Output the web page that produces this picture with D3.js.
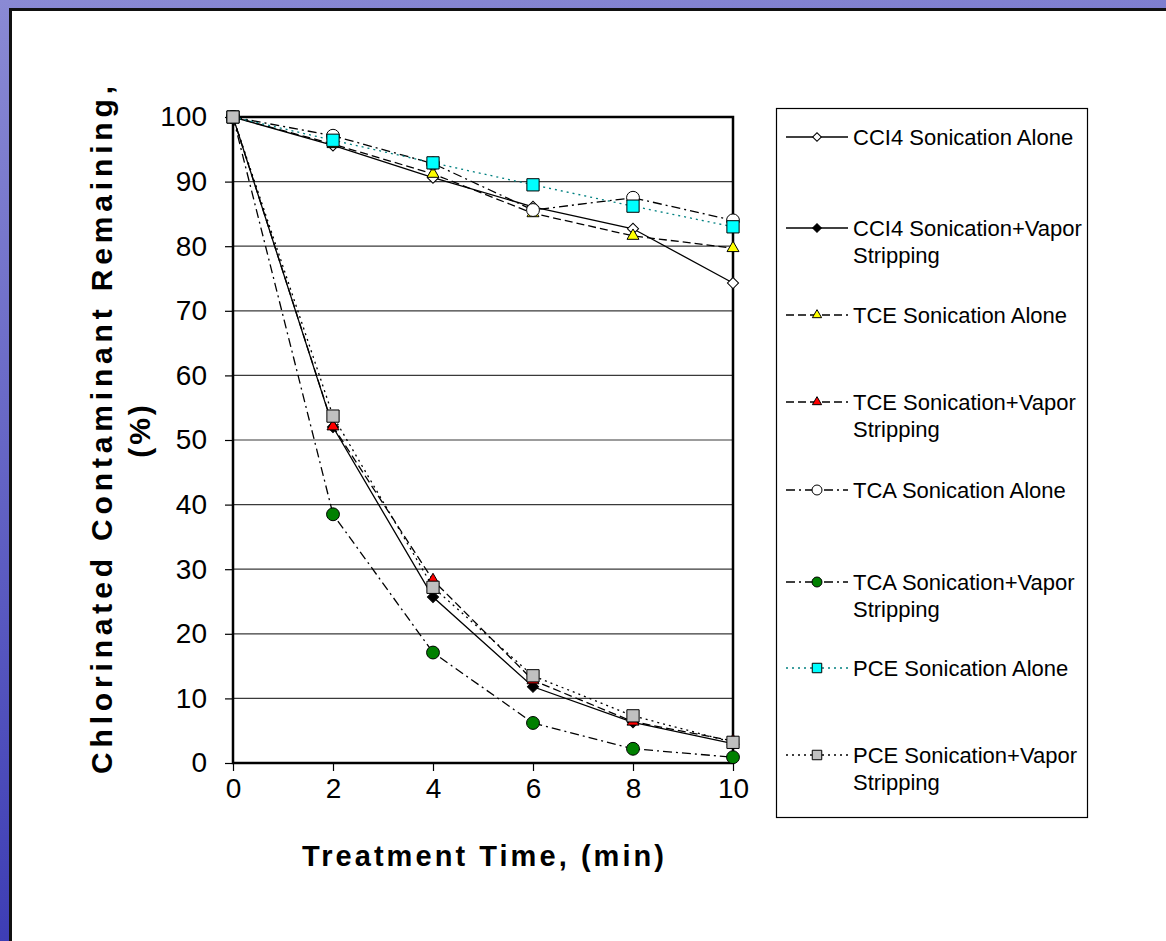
<!DOCTYPE html>
<html>
<head>
<meta charset="utf-8">
<script src="https://cdn.jsdelivr.net/npm/d3@7"></script>
<style>
  body { margin: 0; background: #ffffff; }
  svg { display: block; font-family: "Liberation Sans", Arial, sans-serif; }
</style>
</head>
<body>
<svg id="chart"></svg>
<script>
// treatment time (min) and % remaining
const times = [0, 2, 4, 6, 8, 10];
const ccl4Alone = [100, 95.6, 90.6, 86.1, 82.7, 74.3];
const ccl4Vapor = [100, 52.0, 25.7, 11.8, 6.3, 3.0];
const tceAlone = [100, 95.8, 91.2, 85.1, 81.6, 79.7];
const tceVapor = [100, 52.1, 28.3, 12.8, 6.4, 3.4];
const tcaAlone = [100, 97.1, 92.8, 85.6, 87.5, 84.0];
const tcaVapor = [100, 38.5, 17.1, 6.2, 2.2, 0.9];
const pceAlone = [100, 96.4, 92.9, 89.5, 86.2, 83.0];
const pceVapor = [100, 53.7, 27.2, 13.5, 7.3, 3.2];

const seriesNames = [
    ['CCI4 Sonication Alone'],
    ['CCI4 Sonication+Vapor', 'Stripping'],
    ['TCE Sonication Alone'],
    ['TCE Sonication+Vapor', 'Stripping'],
    ['TCA Sonication Alone'],
    ['TCA Sonication+Vapor', 'Stripping'],
    ['PCE Sonication Alone'],
    ['PCE Sonication+Vapor', 'Stripping']
];
const seriesValues = [ccl4Alone, ccl4Vapor, tceAlone, tceVapor, tcaAlone, tcaVapor, pceAlone, pceVapor];

const xTicks = [0, 2, 4, 6, 8, 10];
const yTicks = [0, 10, 20, 30, 40, 50, 60, 70, 80, 90, 100];
const xTitle = 'Treatment Time, (min)';
const yTitle = ['Chlorinated Contaminant Remaining,', '(%)'];

// line + marker styles, same order as the series
const styles = [
    {line: '#000', dash: null, shape: 'diamond', fill: '#fff'},
    {line: '#000', dash: null, shape: 'diamond', fill: '#000'},
    {line: '#000', dash: '8,4', shape: 'triangle', fill: '#ffff00'},
    {line: '#000', dash: '8,4', shape: 'triangle', fill: '#ff0000'},
    {line: '#000', dash: '9,4,2,4', shape: 'circle', fill: '#fff'},
    {line: '#000', dash: '9,4,2,4', shape: 'circle', fill: '#008000'},
    {line: '#008080', dash: '2,4', shape: 'square', fill: '#00ffff'},
    {line: '#000', dash: '2,4', shape: 'square', fill: '#c0c0c0'}
];

const W = 1166, H = 941;
const plot = {left: 233, right: 733, top: 117, bottom: 763};

const svg = d3.select('#chart').attr('width', W).attr('height', H);

// slide background + white panel
const defs = svg.append('defs');
const grad = defs.append('linearGradient').attr('id', 'bg')
    .attr('x1', 0).attr('y1', 0).attr('x2', 0.15).attr('y2', 1);
grad.append('stop').attr('offset', '0%').attr('stop-color', '#8a8ad4');
grad.append('stop').attr('offset', '100%').attr('stop-color', '#3c3cb4');
svg.append('rect').attr('width', W).attr('height', H).attr('fill', 'url(#bg)');
svg.append('rect')
    .attr('x', 10.5).attr('y', 9.5)
    .attr('width', W).attr('height', H)
    .attr('fill', '#fff').attr('stroke', '#111').attr('stroke-width', 3);

const x = d3.scaleLinear().domain([0, 10]).range([plot.left, plot.right]);
const y = d3.scaleLinear().domain([0, 100]).range([plot.bottom, plot.top]);

// gridlines
svg.append('g')
    .selectAll('line')
    .data(yTicks.filter(d => d > 0 && d < 100))
    .enter()
    .append('line')
        .attr('x1', plot.left).attr('x2', plot.right)
        .attr('y1', d => y(d)).attr('y2', d => y(d))
        .attr('stroke', '#3a3a3a')
        .attr('stroke-width', 1.2);

// axes
const yAxis = d3.axisLeft(y).tickValues(yTicks).tickSize(8).tickPadding(18);
const xAxis = d3.axisBottom(x).tickValues(xTicks).tickSize(8).tickPadding(7);

const gy = svg.append('g').attr('transform', `translate(${plot.left},0)`).call(yAxis);
const gx = svg.append('g').attr('transform', `translate(0,${plot.bottom})`).call(xAxis);
[gy, gx].forEach(g => {
    g.select('.domain').remove();
    g.selectAll('.tick line').attr('stroke', '#000').attr('stroke-width', 1.2);
    g.selectAll('.tick text')
        .attr('fill', '#000')
        .style('font-family', '"Liberation Sans", Arial, sans-serif')
        .style('font-size', '28px');
});

// plot frame
svg.append('rect')
    .attr('x', plot.left).attr('y', plot.top)
    .attr('width', plot.right - plot.left).attr('height', plot.bottom - plot.top)
    .attr('fill', 'none').attr('stroke', '#000').attr('stroke-width', 2.5);

function markerPath(shape, k) {
    if (shape === 'diamond') return d3.symbol(d3.symbolSquare, 62 * k)();
    if (shape === 'triangle') return d3.symbol(d3.symbolTriangle, 62 * k)();
    if (shape === 'circle') return d3.symbol(d3.symbolCircle, 130 * k)();
    return d3.symbol(d3.symbolSquare, 150 * k)();
}
function markerTransform(shape, px, py) {
    return shape === 'diamond' ? `translate(${px},${py}) rotate(45)` : `translate(${px},${py})`;
}

const line = d3.line().x(d => x(d[0])).y(d => y(d[1]));

// series, drawn in legend order
seriesValues.forEach((vals, i) => {
    const st = styles[i];
    const pts = times.map((t, j) => [t, vals[j]]);
    const g = svg.append('g');
    g.append('path')
        .datum(pts)
        .attr('d', line)
        .attr('fill', 'none')
        .attr('stroke', st.line)
        .attr('stroke-width', 1.3)
        .attr('stroke-dasharray', st.dash);
    g.selectAll('path.mk')
        .data(pts)
        .enter()
        .append('path')
            .attr('class', 'mk')
            .attr('d', markerPath(st.shape, 1))
            .attr('transform', d => markerTransform(st.shape, x(d[0]), y(d[1])))
            .attr('fill', st.fill)
            .attr('stroke', '#000')
            .attr('stroke-width', 1);
});

// legend
const legend = svg.append('g');
legend.append('rect')
    .attr('x', 776.5).attr('y', 108.5)
    .attr('width', 311).attr('height', 709)
    .attr('fill', '#fff').attr('stroke', '#000').attr('stroke-width', 1.2);

const legendRows = [137, 228, 315, 402, 490, 582, 668, 755];
seriesNames.forEach((lines, i) => {
    const st = styles[i];
    const ly = legendRows[i];
    legend.append('line')
        .attr('x1', 786).attr('x2', 848)
        .attr('y1', ly).attr('y2', ly)
        .attr('stroke', st.line)
        .attr('stroke-width', 1.3)
        .attr('stroke-dasharray', st.dash);
    legend.append('path')
        .attr('d', markerPath(st.shape, 0.6))
        .attr('transform', markerTransform(st.shape, 817, ly))
        .attr('fill', st.fill)
        .attr('stroke', '#000')
        .attr('stroke-width', 1);
    const t = legend.append('text')
        .attr('x', 853).attr('y', ly + 8)
        .style('font-size', '22px');
    lines.forEach((s, k) => {
        t.append('tspan').attr('x', 853).attr('dy', k === 0 ? 0 : 27).text(s);
    });
});

// axis titles
svg.append('text')
    .attr('x', 483).attr('y', 866)
    .attr('text-anchor', 'middle')
    .attr('textLength', 362).attr('lengthAdjust', 'spacing')
    .style('font-size', '29px').style('font-weight', 'bold')
    .text(xTitle);

svg.append('text')
    .attr('transform', 'translate(112,430) rotate(-90)')
    .attr('text-anchor', 'middle')
    .attr('textLength', 688).attr('lengthAdjust', 'spacing')
    .style('font-size', '30px').style('font-weight', 'bold')
    .text(yTitle[0]);
svg.append('text')
    .attr('transform', 'translate(150,430) rotate(-90)')
    .attr('text-anchor', 'middle')
    .style('font-size', '30px').style('font-weight', 'bold')
    .style('letter-spacing', '3px')
    .text(yTitle[1]);
</script>
</body>
</html>
